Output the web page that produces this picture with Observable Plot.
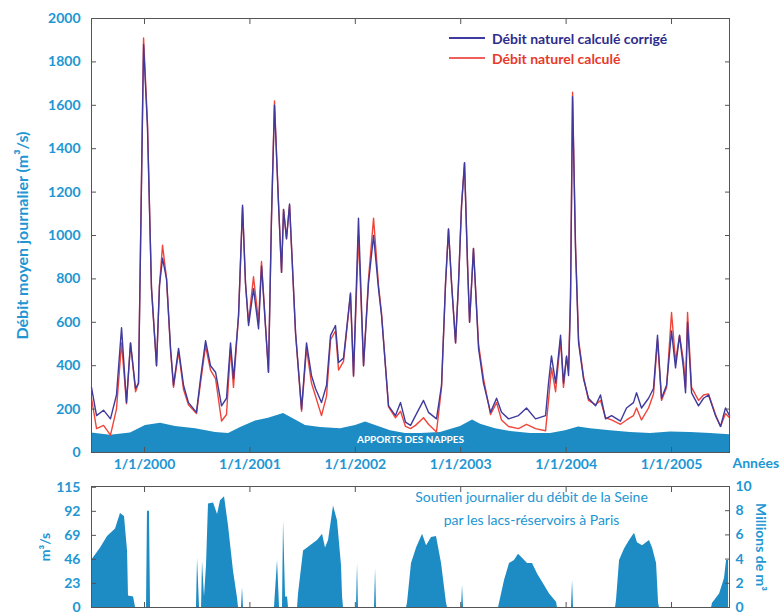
<!DOCTYPE html>
<html><head><meta charset="utf-8">
<script src="https://cdn.jsdelivr.net/npm/d3@7"></script>
<script src="https://cdn.jsdelivr.net/npm/@observablehq/plot@0.6"></script>
<style>
body{margin:0;background:#fff;}
#chart{position:relative;width:779px;height:615px;font-family:Lato,sans-serif;}
#top{position:absolute;left:0;top:0;}
#bottom{position:absolute;left:0;top:478px;}
.legend{position:absolute;left:449px;top:28px;font:bold 14px Lato,sans-serif;}
.legend div{height:20px;display:flex;align-items:center;}
.legend .sw{display:inline-block;width:36px;height:0;border-top:2px solid;margin-right:7px;}
</style></head><body>
<div id="chart"><div id="top"></div><div id="bottom"></div>
<div class="legend">
 <div style="color:#2e2c8c"><span class="sw" style="border-color:#3d3aa0"></span>Débit naturel calculé corrigé</div>
 <div style="color:#e8392b"><span class="sw" style="border-color:#f0605a"></span>Débit naturel calculé</div>
</div></div>
<script>
// Time in decimal years
const tDebit = [
 1999.497, 1999.545, 1999.611, 1999.677, 1999.734, 1999.782, 1999.829, 1999.867, 1999.915, 1999.943,
 1999.991, 2000.028, 2000.066, 2000.114, 2000.142, 2000.171, 2000.209, 2000.247, 2000.275, 2000.323,
 2000.370, 2000.417, 2000.493, 2000.531, 2000.579, 2000.626, 2000.674, 2000.731, 2000.778, 2000.816,
 2000.844, 2000.892, 2000.930, 2000.958, 2000.987, 2001.034, 2001.082, 2001.110, 2001.176, 2001.205,
 2001.233, 2001.271, 2001.300, 2001.319, 2001.347, 2001.376, 2001.433, 2001.490, 2001.537, 2001.584,
 2001.622, 2001.679, 2001.727, 2001.765, 2001.812, 2001.841, 2001.888, 2001.954, 2001.983, 2002.030,
 2002.078, 2002.125, 2002.173, 2002.220, 2002.249, 2002.315, 2002.381, 2002.429, 2002.476, 2002.524,
 2002.571, 2002.647, 2002.694, 2002.770, 2002.818, 2002.856, 2002.884, 2002.913, 2002.951, 2002.979,
 2003.008, 2003.036, 2003.065, 2003.084, 2003.121, 2003.169, 2003.216, 2003.283, 2003.340, 2003.387,
 2003.454, 2003.548, 2003.624, 2003.710, 2003.805, 2003.833, 2003.861, 2003.900, 2003.947, 2003.975,
 2004.004, 2004.023, 2004.042, 2004.061, 2004.089, 2004.118, 2004.165, 2004.212, 2004.279, 2004.326,
 2004.374, 2004.431, 2004.516, 2004.573, 2004.639, 2004.668, 2004.715, 2004.782, 2004.829, 2004.867,
 2004.905, 2004.953, 2005.000, 2005.038, 2005.076, 2005.114, 2005.133, 2005.152, 2005.190, 2005.256,
 2005.304, 2005.351, 2005.417, 2005.465, 2005.512, 2005.550
];
// Débit naturel calculé corrigé (m3/s)
const debitCorrige = [
 300, 170, 195, 155, 265, 575, 230, 505, 295, 320,
 1880, 1500, 755, 400, 770, 895, 800, 480, 310, 480,
 310, 230, 185, 340, 515, 400, 370, 215, 250, 505,
 340, 630, 1140, 780, 585, 755, 570, 860, 370, 1090,
 1600, 1150, 830, 1120, 985, 1145, 550, 200, 505, 355,
 295, 230, 310, 540, 585, 415, 435, 735, 355, 1080,
 400, 780, 1000, 755, 630, 215, 170, 230, 140, 125,
 170, 240, 185, 155, 310, 780, 1030, 780, 505, 780,
 1140, 1335, 860, 600, 940, 480, 320, 185, 250, 185,
 155, 170, 205, 155, 170, 320, 445, 320, 540, 320,
 445, 355, 710, 1640, 940, 505, 340, 250, 215, 265,
 155, 170, 145, 205, 230, 275, 205, 250, 295, 540,
 250, 310, 560, 390, 540, 385, 275, 600, 275, 215,
 250, 265, 170, 120, 205, 170
];
// Débit naturel calculé (m3/s)
const debitCalcule = [
 250, 110, 125, 80, 200, 505, 225, 505, 280, 320,
 1910, 1520, 760, 400, 770, 955, 800, 470, 300, 465,
 290, 220, 180, 320, 490, 380, 340, 145, 175, 480,
 300, 630, 1130, 780, 600, 810, 600, 880, 370, 1090,
 1620, 1150, 830, 1120, 985, 1140, 550, 190, 480, 320,
 260, 170, 260, 520, 560, 380, 420, 730, 350, 1000,
 400, 800, 1080, 770, 640, 210, 160, 190, 120, 110,
 125, 160, 130, 95, 300, 780, 1030, 780, 505, 780,
 1140, 1335, 860, 600, 940, 500, 340, 175, 230, 150,
 120, 110, 130, 110, 100, 240, 390, 280, 520, 300,
 440, 380, 740, 1660, 960, 520, 350, 240, 220, 240,
 160, 150, 130, 150, 170, 205, 150, 205, 270, 520,
 240, 300, 645, 420, 540, 420, 300, 645, 300, 240,
 265, 270, 175, 120, 180, 160
];
// Apports des nappes (m3/s)
const tNappes = [
 1999.497, 1999.677, 1999.867, 2000.009, 2000.152, 2000.294, 2000.484, 2000.674, 2000.797, 2000.911,
 2001.053, 2001.176, 2001.319, 2001.433, 2001.527, 2001.670, 2001.860, 2002.002, 2002.097, 2002.192,
 2002.334, 2002.476, 2002.619, 2002.808, 2002.998, 2003.112, 2003.188, 2003.330, 2003.472, 2003.662,
 2003.852, 2003.994, 2004.118, 2004.231, 2004.421, 2004.611, 2004.801, 2004.991, 2005.180, 2005.370,
 2005.550
];
const apportsNappes = [
 90, 80, 90, 125, 135, 120, 110, 92, 88, 115,
 145, 158, 180, 150, 125, 115, 110, 125, 140, 125,
 100, 88, 88, 92, 120, 150, 130, 110, 97, 88,
 88, 100, 118, 110, 100, 92, 88, 95, 92, 88,
 82
];
// Soutien journalier par les lacs-réservoirs (m3/s)
const tSoutien = [
 1999.497, 1999.583, 1999.649, 1999.725, 1999.772, 1999.810, 1999.839, 1999.848, 1999.896, 1999.915,
 2000.019, 2000.028, 2000.047, 2000.057, 2000.493, 2000.503, 2000.522, 2000.541, 2000.550, 2000.569,
 2000.588, 2000.607, 2000.655, 2000.693, 2000.721, 2000.759, 2000.797, 2000.844, 2000.882, 2000.892,
 2000.920, 2000.930, 2000.939, 2001.233, 2001.262, 2001.281, 2001.309, 2001.319, 2001.338, 2001.357,
 2001.366, 2001.452, 2001.461, 2001.509, 2001.575, 2001.641, 2001.689, 2001.717, 2001.746, 2001.793,
 2001.831, 2001.869, 2001.879, 2001.888, 2002.011, 2002.021, 2002.030, 2002.182, 2002.192, 2002.201,
 2002.486, 2002.495, 2002.533, 2002.581, 2002.638, 2002.676, 2002.723, 2002.770, 2002.818, 2002.865,
 2002.875, 2003.008, 2003.017, 2003.027, 2003.359, 2003.368, 2003.416, 2003.463, 2003.510, 2003.548,
 2003.586, 2003.634, 2003.681, 2003.729, 2003.795, 2003.843, 2003.909, 2003.918, 2004.051, 2004.061,
 2004.070, 2004.469, 2004.478, 2004.507, 2004.554, 2004.602, 2004.649, 2004.677, 2004.725, 2004.791,
 2004.820, 2004.858, 2004.877, 2004.886, 2005.380, 2005.389, 2005.456, 2005.503, 2005.522, 2005.541
];
const soutien = [
 45, 57, 68, 75, 90, 87, 54, 11, 10, 0,
 0, 92, 92, 0, 0, 47, 0, 0, 44, 10,
 40, 99, 100, 89, 102, 106, 78, 35, 9, 0,
 0, 19, 0, 0, 45, 0, 0, 83, 10, 10,
 0, 0, 13, 54, 59, 64, 70, 57, 64, 97,
 83, 40, 10, 0, 0, 42, 0, 0, 37, 0,
 0, 4, 42, 57, 70, 59, 67, 68, 42, 4,
 0, 0, 21, 0, 0, 4, 26, 42, 45, 51,
 47, 42, 42, 32, 21, 13, 5, 0, 0, 26,
 0, 0, 7, 45, 56, 64, 71, 62, 59, 64,
 57, 42, 4, 0, 0, 4, 13, 28, 45, 45
];
const anneeTicks = [2000, 2001, 2002, 2003, 2004, 2005];
const debitTicks = [0, 200, 400, 600, 800, 1000, 1200, 1400, 1600, 1800, 2000];
const soutienTicks = [0, 23, 46, 69, 92, 115];
const volumeTicks = [0, 2, 4, 6, 8, 10]; // millions de m3 par jour

const cyan = "#2196d3";
const grey = "#555";
const fillBlue = "#1d8cc4";
const xDomain = [1999.497, 2005.55];

const series = tDebit.map((t, i) => ({t, corrige: debitCorrige[i], calcule: debitCalcule[i]}));
const nappes = tNappes.map((t, i) => ({t, v: apportsNappes[i]}));
const soutienData = tSoutien.map((t, i) => ({t, v: soutien[i]}));

const baseStyle = {fontFamily: "Lato, sans-serif", fontSize: "14px", background: "transparent", overflow: "visible"};

const topPlot = Plot.plot({
  width: 779, height: 478,
  marginLeft: 91, marginRight: 50, marginTop: 18, marginBottom: 26,
  style: baseStyle,
  x: {domain: xDomain},
  y: {domain: [0, 2000]},
  marks: [
    Plot.areaY(nappes, {x: "t", y: "v", fill: fillBlue}),
    Plot.text(["APPORTS DES NAPPES"], {frameAnchor: "bottom", dy: -10, fill: "white", fontSize: 10, fontWeight: "bold"}),
    Plot.lineY(series, {x: "t", y: "calcule", stroke: "#f0453a", strokeWidth: 1.4}),
    Plot.lineY(series, {x: "t", y: "corrige", stroke: "#3f3a9c", strokeWidth: 1.4}),
    Plot.frame({stroke: grey}),
    Plot.axisY(debitTicks, {anchor: "left", tickSize: -5, tickPadding: 16, tickFormat: d => String(d), stroke: grey, fill: cyan, fontWeight: "bold", label: null}),
    Plot.axisY(debitTicks, {anchor: "right", tickSize: -5, tickFormat: () => "", stroke: grey, label: null}),
    Plot.axisX(anneeTicks, {anchor: "top", tickSize: -5, tickFormat: () => "", stroke: grey, label: null}),
    Plot.axisX(anneeTicks, {anchor: "bottom", tickSize: -5, tickPadding: 12, tickFormat: d => `1/1/${d}`, stroke: grey, fill: cyan, fontWeight: "bold", label: null}),
    Plot.text(["Débit moyen journalier (m³/s)"], {frameAnchor: "left", textAnchor: "middle", dx: -69, rotate: -90, fill: cyan, fontSize: 16, fontWeight: "bold"}),
    Plot.text(["Années"], {frameAnchor: "bottom-right", dx: 3, dy: 15, textAnchor: "start", fill: cyan, fontSize: 14, fontWeight: "bold"})
  ]
});
document.getElementById("top").append(topPlot);

const bottomPlot = Plot.plot({
  width: 779, height: 137,
  marginLeft: 91, marginRight: 50, marginTop: 8, marginBottom: 8,
  style: baseStyle,
  x: {domain: xDomain},
  y: {domain: [0, 1e7 / 86400]},
  marks: [
    Plot.areaY(soutienData, {x: "t", y: "v", fill: fillBlue}),
    Plot.frame({stroke: grey}),
    Plot.axisY(soutienTicks, {anchor: "left", tickSize: -5, tickPadding: 16, tickFormat: d => String(d), stroke: grey, fill: cyan, fontWeight: "bold", label: null}),
    Plot.axisY(volumeTicks.map(v => v * 1e6 / 86400), {anchor: "right", tickSize: -5, tickPadding: 11, tickFormat: d => String(Math.round(d * 86400 / 1e6)), stroke: grey, fill: cyan, fontWeight: "bold", label: null}),
    Plot.axisX(anneeTicks, {anchor: "top", tickSize: -5, tickFormat: () => "", stroke: grey, label: null}),
    Plot.axisX(anneeTicks, {anchor: "bottom", tickSize: -5, tickFormat: () => "", stroke: grey, label: null}),
    Plot.text(["m³/s"], {frameAnchor: "left", textAnchor: "middle", dx: -46, rotate: -90, fill: cyan, fontSize: 14, fontWeight: "bold"}),
    Plot.text(["Millions de m³"], {frameAnchor: "right", textAnchor: "middle", dx: 31, rotate: 90, fill: cyan, fontSize: 14, fontWeight: "bold"}),
    Plot.text(["Soutien journalier du débit de la Seine\npar les lacs-réservoirs à Paris"], {frameAnchor: "top", dx: 121, dy: 0, lineAnchor: "top", lineHeight: 1.6, fill: cyan, fontSize: 14})
  ]
});
document.getElementById("bottom").append(bottomPlot);
</script>
</body></html>
